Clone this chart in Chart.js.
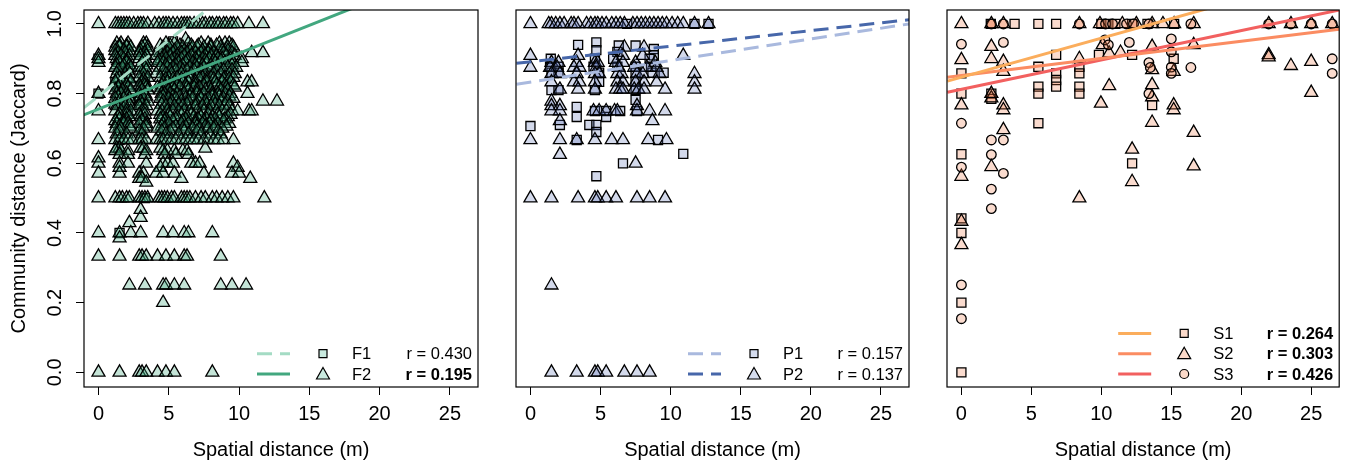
<!DOCTYPE html>
<html>
<head>
<meta charset="utf-8">
<script src="https://cdn.jsdelivr.net/npm/chart.js@4.4.1/dist/chart.umd.min.js"></script>
<style>
  body { margin: 0; background: #fff; }
  canvas.panel { position: absolute; left: 0; top: 0; }
</style>
</head>
<body>
<canvas id="forest" class="panel" width="1348" height="464"></canvas>
<canvas id="plantation" class="panel" width="1348" height="464"></canvas>
<canvas id="secondary" class="panel" width="1348" height="464"></canvas>
<script>
// axis setup
const xMin = -1.03, xMax = 27.0;
const yMin = -0.042, yMax = 1.04;
const xTicks = [0, 5, 10, 15, 20, 25];
const yTicks = [0, 0.2, 0.4, 0.6, 0.8, 1.0];

// F2: spatial distances grouped by Jaccard value
const f2Levels = [1.0, 0.956, 0.944, 0.938, 0.933, 0.923, 0.917, 0.909, 0.9, 0.895, 0.889, 0.882, 0.875, 0.867,
  0.857, 0.846, 0.842, 0.833, 0.824, 0.818, 0.81, 0.8, 0.792, 0.786, 0.778, 0.769, 0.765, 0.75, 0.74, 0.733,
  0.727, 0.722, 0.714, 0.706, 0.7, 0.692, 0.684, 0.667, 0.643, 0.636, 0.625,
  0.615, 0.6, 0.588, 0.571, 0.556, 0.545, 0.5, 0.467, 0.444, 0.429, 0.4, 0.385, 0.333, 0.25, 0.2, 0.0];
const f2Dist = [
  [0, 1.2, 1.4, 1.6, 1.8, 2.0, 2.2, 2.5, 2.8, 3.0, 3.2, 3.5, 4.0, 4.3, 4.6, 4.8, 5.0, 5.3, 5.6, 5.9, 6.1, 6.3, 6.5, 6.8, 7.1, 7.4, 7.6, 7.9, 8.1, 8.4, 8.6, 8.9, 9.1, 9.4, 9.6, 9.9, 10.7, 11.7],
  [6.2],
  [1.3, 1.6, 2.1, 3.2, 3.4, 4.8, 5.4, 6.4, 7.3, 7.8, 8.6, 9.0, 9.3],
  [1.5, 2.0, 3.3, 4.4, 5.1, 5.8, 6.6, 7.1, 8.0, 8.4, 9.5],
  [1.2, 1.5, 2.0, 2.3, 3.1, 3.5, 4.6, 5.0, 5.6, 6.0, 6.7, 7.0, 7.5, 8.0, 8.7, 9.2, 9.6],
  [1.2, 1.8, 2.2, 3.0, 3.5, 4.6, 5.4, 6.1, 6.5, 7.4, 7.9, 8.8, 9.2],
  [1.4, 1.9, 2.9, 3.3, 4.4, 4.9, 5.3, 5.9, 6.3, 6.9, 7.3, 7.8, 8.2, 8.9, 9.5, 10.9, 11.7],
  [0, 1.2, 1.6, 2.2, 3.0, 3.4, 4.1, 4.7, 5.1, 5.6, 6.1, 6.6, 7.1, 7.6, 8.0, 8.4, 9.1, 9.7],
  [0, 1.3, 1.8, 2.1, 2.9, 3.3, 4.5, 4.8, 5.4, 5.9, 6.4, 6.9, 7.4, 7.9, 8.5, 8.8, 9.4, 10.2],
  [1.4, 2.0, 3.2, 4.3, 5.2, 5.6, 6.3, 7.0, 7.6, 8.2, 8.7, 9.3],
  [0, 1.5, 2.0, 3.1, 3.5, 4.2, 4.6, 5.0, 5.7, 6.2, 6.7, 7.2, 7.7, 8.3, 9.0, 9.6, 10.2],
  [1.3, 1.8, 2.2, 3.4, 4.8, 5.5, 6.0, 6.9, 7.4, 8.0, 8.5, 9.5],
  [1.2, 1.7, 2.3, 2.9, 3.3, 4.4, 4.9, 5.3, 5.8, 6.5, 7.0, 7.5, 8.1, 8.6, 9.2, 9.8],
  [1.4, 2.1, 3.0, 3.4, 4.6, 5.1, 5.5, 6.0, 6.3, 6.8, 7.3, 7.9, 8.4, 8.9, 9.5],
  [1.3, 1.9, 2.2, 3.2, 4.1, 4.8, 5.2, 5.9, 6.6, 7.1, 7.6, 8.2, 8.7, 9.3, 9.7],
  [1.5, 2.0, 2.9, 3.5, 4.4, 5.0, 5.6, 6.2, 7.0, 7.4, 8.0, 8.5, 9.0, 9.6],
  [1.3, 1.8, 2.2, 3.2, 4.8, 5.3, 5.9, 6.5, 7.2, 7.7, 8.2, 8.9, 9.3],
  [1.2, 1.7, 2.3, 3.1, 3.3, 4.6, 4.9, 5.4, 6.0, 6.4, 6.9, 7.7, 8.3, 8.8, 9.4, 10.6, 10.9],
  [1.5, 2.0, 2.9, 3.3, 4.5, 5.1, 5.6, 6.2, 6.9, 7.5, 8.4, 9.0, 9.6],
  [1.4, 2.1, 3.0, 3.4, 4.2, 4.8, 5.3, 5.8, 6.3, 6.8, 7.2, 7.9, 8.6, 9.1, 9.7],
  [1.2, 1.7, 2.3, 3.1, 3.5, 4.4, 5.0, 5.4, 6.4, 7.0, 7.6, 8.0, 8.7, 9.2],
  [0, 1.3, 1.6, 2.0, 2.9, 3.3, 4.5, 4.7, 5.1, 5.6, 6.1, 6.6, 7.0, 7.5, 8.1, 8.5, 9.0, 9.4, 10.6],
  [1.4, 2.1, 3.0, 3.4, 4.6, 5.3, 5.8, 6.5, 7.2, 8.1, 8.6, 9.3],
  [1.2, 1.8, 2.2, 3.2, 4.4, 5.0, 5.5, 6.2, 6.7, 7.3, 7.8, 8.3, 8.9, 9.6],
  [1.5, 2.1, 3.0, 3.5, 4.6, 5.2, 5.9, 6.4, 7.1, 7.6, 8.2, 8.7, 9.2, 11.7, 12.7],
  [1.2, 1.6, 2.2, 3.1, 4.5, 5.1, 5.7, 6.3, 7.0, 7.7, 8.3, 9.0],
  [1.3, 1.9, 2.9, 3.4, 4.8, 5.4, 6.0, 6.9, 7.4, 8.0, 8.6, 9.3],
  [0, 1.2, 1.6, 2.0, 2.3, 3.1, 3.3, 4.2, 4.5, 4.9, 5.3, 5.7, 6.1, 6.5, 7.0, 7.5, 7.9, 8.4, 8.8, 9.1, 9.5, 9.9, 10.7, 10.9],
  [1.5, 2.0, 2.9, 3.3, 4.4, 5.0, 5.9, 6.6, 7.2, 7.8, 8.5, 9.4],
  [1.4, 2.2, 3.0, 4.6, 5.1, 5.6, 6.3, 6.8, 7.3, 8.1, 8.6, 9.2],
  [1.5, 2.0, 3.3, 4.4, 4.8, 5.5, 6.2, 7.1, 7.7, 8.3, 9.0],
  [1.2, 1.8, 3.1, 4.7, 5.3, 6.0, 6.9, 7.5, 8.0, 8.9],
  [1.3, 1.8, 2.1, 2.9, 3.4, 4.6, 5.0, 5.9, 6.4, 6.9, 7.4, 7.9, 8.5, 9.3],
  [1.5, 2.2, 3.4, 4.5, 5.5, 6.2, 7.0, 7.6, 8.3, 9.1],
  [1.2, 1.6, 2.3, 3.2, 4.2, 4.7, 5.3, 6.0, 6.7, 7.2, 7.8, 8.2, 8.8],
  [1.5, 2.9, 4.5, 5.1, 6.1, 7.0, 8.5],
  [1.3, 2.0, 3.1, 4.8, 5.7, 6.4, 7.3, 7.9, 8.7],
  [0, 1.2, 1.5, 1.8, 2.1, 2.4, 2.9, 3.1, 3.4, 4.1, 4.4, 4.6, 4.9, 5.2, 5.5, 5.9, 6.2, 6.5, 6.8, 7.1, 7.5, 7.8, 8.2, 8.5, 8.9, 9.6],
  [1.3, 1.5, 3.0, 3.2, 4.4, 7.6],
  [1.2, 1.6, 2.1, 3.4, 4.6, 4.9, 5.4, 6.0, 6.3],
  [1.5, 2.1, 3.3, 4.7, 5.5, 6.4],
  [0],
  [0, 1.5, 2.1, 3.4, 4.6, 4.9, 5.3, 6.6, 6.9, 7.2, 9.6],
  [1.5, 4.4, 9.9],
  [0, 1.5, 2.9, 3.2, 4.1, 4.6, 5.4, 7.5, 8.2, 9.5, 10.0],
  [2.9, 3.1, 5.9, 10.8],
  [3.4],
  [0, 1.2, 1.5, 1.7, 2.0, 2.2, 2.9, 3.1, 3.3, 3.5, 4.3, 4.5, 4.7, 4.9, 5.2, 5.4, 5.9, 6.1, 6.3, 6.5, 6.9, 7.3, 7.6, 8.1, 8.4, 8.8, 9.2, 9.6, 11.8],
  [3.0],
  [3.0],
  [2.2],
  [0, 1.5, 2.3, 3.0, 4.6, 5.3, 6.1, 6.4, 8.1],
  [1.5],
  [0, 1.5, 2.9, 3.1, 3.4, 4.2, 4.8, 5.4, 6.1, 6.3, 8.7],
  [2.2, 3.3, 4.6, 4.8, 5.4, 6.1, 8.7, 9.5, 10.5],
  [4.6],
  [0, 1.5, 2.9, 3.1, 3.4, 4.2, 4.8, 5.4, 8.1]
];
const f1Points = [[0, 0.8], [0, 0.9], [1.5, 0.4], [2.9, 0.78], [1.5, 0.9], [3.3, 0.85], [4.6, 0.9], [1.5, 0.667],
  [2.1, 0.75], [3.3, 0.5], [4.8, 0.8], [2.1, 0.875], [1.2, 0.833], [5.3, 0.95], [3.0, 0.7]];

// P1 / P2
const p1Points = [[3.4, 0.94], [4.7, 0.947], [6.3, 0.938], [7.5, 0.938], [8.8, 0.928], [4.7, 0.925], [6.2, 0.92],
  [8.8, 0.91], [1.45, 0.9], [4.6, 0.9], [5.9, 0.9], [8.5, 0.9], [1.4, 0.877], [2.0, 0.877], [4.5, 0.877],
  [6.2, 0.877], [7.5, 0.877], [8.6, 0.877], [1.5, 0.86], [2.0, 0.86], [4.9, 0.86], [7.5, 0.86], [8.7, 0.86],
  [9.5, 0.86], [4.9, 0.834], [7.5, 0.834], [1.5, 0.81], [2.0, 0.81], [4.6, 0.81], [7.5, 0.81], [7.5, 0.782],
  [3.3, 0.762], [3.3, 0.733], [4.6, 0.75], [5.4, 0.75], [6.4, 0.75], [7.6, 0.75], [0, 0.707], [4.2, 0.71],
  [4.7, 0.71], [4.7, 0.69], [5.4, 0.733], [2.1, 0.71], [3.3, 0.667], [9.1, 0.667], [10.9, 0.627], [6.6, 0.6],
  [4.7, 0.563], [6.9, 1.0], [11.7, 1.0], [12.7, 1.0]];
const p2Levels = [1.0, 0.933, 0.909, 0.889, 0.875, 0.857, 0.833, 0.812, 0.778, 0.765, 0.75, 0.722, 0.667, 0.625,
  0.6, 0.5, 0.25, 0.0];
const p2Dist = [
  [0, 1.3, 1.5, 1.8, 2.1, 2.4, 2.9, 3.1, 3.4, 4.0, 4.3, 4.6, 4.8, 5.1, 5.4, 5.8, 6.1, 6.4, 6.7, 7.3, 7.6, 7.9, 8.2, 8.5, 8.8, 9.1, 9.4, 9.7, 10.1, 10.5, 10.9, 11.7, 12.7],
  [6.7, 8.1],
  [0, 3.4, 6.6, 8.0, 10.9],
  [1.5, 2.0, 3.3, 4.6, 4.8, 6.1, 6.6, 7.5, 8.9],
  [0, 1.4, 1.9, 3.1, 3.5, 4.7, 6.3, 7.4, 8.3, 9.0],
  [1.5, 2.1, 3.3, 4.6, 4.9, 6.2, 6.5, 7.6, 8.0, 9.2, 11.7],
  [1.5, 3.1, 3.5, 4.6, 6.2, 6.6, 7.5, 8.1, 9.0, 11.7],
  [2.1, 3.4, 4.6, 6.1, 6.4, 6.6, 7.4, 7.7, 8.1, 9.6, 11.7],
  [1.5],
  [1.5, 2.1, 7.6],
  [1.5, 2.1, 4.5, 4.9, 5.4, 6.0, 6.2, 7.6, 8.5, 9.6],
  [2.1, 8.7],
  [0, 2.1, 3.3, 4.6, 5.8, 6.6, 8.4, 9.7],
  [2.1],
  [7.5],
  [0, 1.5, 3.4, 4.6, 4.8, 5.4, 6.1, 7.6, 8.5, 9.6],
  [1.5],
  [1.5, 3.3, 4.6, 4.8, 5.4, 6.7, 7.6, 8.5]
];

// S1 / S2 / S3
const s1Points = [[0, 0], [0, 0.2], [0, 0.4], [0, 0.442], [0, 0.626], [0, 0.8], [0, 0.858], [2.14, 0.8], [2.14, 0.785],
  [2.1, 1], [3.8, 1], [5.5, 1], [6.77, 1], [5.5, 0.715], [5.5, 0.82], [5.5, 0.8], [5.5, 0.877], [6.77, 0.911],
  [6.77, 0.858], [6.77, 0.839], [6.77, 0.82], [8.43, 0.877], [8.43, 0.858], [8.43, 0.82], [8.43, 0.8], [9.83, 0.911],
  [12.2, 0.6], [12.2, 0.911], [13.63, 0.767], [15.17, 0.9], [10, 1], [10.5, 1], [11, 1], [12.2, 1], [13.3, 1], [15.2, 1]];
const s2Points = [[0, 1], [0, 0.897], [0, 0.767], [0, 0.562], [0, 0.433], [0, 0.366], [2.14, 0.935], [2.14, 0.9],
  [2.14, 0.787], [2.14, 0.59], [2.14, 0.8], [3.0, 0.892], [3.0, 0.863], [3.0, 0.767], [3.0, 0.753], [3.0, 0.696],
  [8.43, 0.9], [8.43, 0.5], [9.97, 0.772], [10.56, 0.822], [10.1, 0.94], [10.56, 0.916], [11.37, 0.918], [12.2, 0.64],
  [12.2, 0.547], [13.63, 0.935], [13.63, 0.868], [13.63, 0.825], [13.63, 0.79], [13.63, 0.717], [15.17, 0.767],
  [15.17, 0.753], [15.17, 0.863], [16.6, 0.94], [16.6, 0.688], [16.6, 0.592], [21.96, 0.911], [21.96, 0.905],
  [23.55, 0.88], [25.0, 0.892], [25.0, 0.803], [8.43, 1], [11.5, 1], [12.5, 1], [14.4, 1], [15.2, 1], [16.6, 1],
  [21.96, 1], [23.55, 1], [25, 1], [26.5, 1], [2.14, 1], [3.0, 1], [13.63, 1], [9.9, 1]];
const s3Points = [[0, 0.942], [0, 0.715], [0, 0.589], [0, 0.251], [0, 0.154], [2.14, 0.667], [2.14, 0.625],
  [2.14, 0.526], [2.14, 0.47], [3.0, 0.947], [3.0, 0.667], [3.0, 0.571], [2.14, 1], [3.0, 1], [8.43, 1],
  [10.26, 0.954], [10.5, 0.94], [12.0, 0.947], [13.4, 0.889], [13.4, 0.8], [13.5, 0.875], [15.0, 0.957],
  [15.0, 0.92], [15.0, 0.876], [15.0, 0.858], [16.4, 0.875], [16.4, 1], [26.5, 0.9], [26.5, 0.858], [21.96, 1],
  [23.55, 1], [25, 1], [26.5, 1], [10.3, 1], [10.8, 1], [11.8, 1], [12.3, 1], [13.4, 1]];

// fitted lines, end points
const f1Fit = [[-1.05, 0.759], [8, 1.05]];
const f2Fit = [[-1.05, 0.739], [19, 1.06]];
const p1Fit = [[-1, 0.827], [27, 1.0]];
const p2Fit = [[-1, 0.887], [27, 1.012]];
const s1Fit = [[-1, 0.836], [19, 1.06]];
const s2Fit = [[-1, 0.847], [27, 0.985]];
const s3Fit = [[-1, 0.804], [27, 1.04]];

const fLabels = ['F1', 'F2'], fR = ['r = 0.430', 'r = 0.195'], fBold = [false, true];
const pLabels = ['P1', 'P2'], pR = ['r = 0.157', 'r = 0.137'], pBold = [false, false];
const sLabels = ['S1', 'S2', 'S3'], sR = ['r = 0.264', 'r = 0.303', 'r = 0.426'], sBold = [true, true, true];

const fontFam = '"Liberation Sans", Arial, Helvetica, sans-serif';
const green = 'rgba(60,165,122,0.3)', greenLeg = '#c9eadf';
const blue = 'rgba(80,105,175,0.25)', blueLeg = '#d5dcee';
const orange = 'rgba(235,110,60,0.25)', orangeLeg = '#fbd9c9';

function pts(pairs) { return pairs.map(p => ({ x: p[0], y: p[1] })); }
function levelPts(levels, dists) {
  const out = [];
  levels.forEach((y, i) => dists[i].forEach(x => out.push({ x: x, y: y })));
  return out;
}
function dots(data, style, radius, fill, order) {
  return { data: data, pointStyle: style, pointRadius: radius, backgroundColor: fill,
    borderColor: '#000', borderWidth: 1.3, showLine: false, order: order };
}
function fit(pairs, color, dash) {
  return { data: pts(pairs), showLine: true, borderColor: color, borderWidth: 3, borderDash: dash,
    pointRadius: 0, fill: false, order: 0, clip: 0 };
}

function frame(legend, showY) {
  return {
    id: 'frame',
    afterDraw(chart) {
      const ctx = chart.ctx, a = chart.chartArea;
      ctx.save();
      ctx.strokeStyle = '#000';
      ctx.lineWidth = 1.2;
      ctx.strokeRect(a.left, a.top, a.right - a.left, a.bottom - a.top);
      ctx.fillStyle = '#000';
      if (showY) {
        ctx.font = '20px ' + fontFam;
        ctx.textAlign = 'center';
        ctx.textBaseline = 'middle';
        yTicks.forEach(v => {
          const py = chart.scales.y.getPixelForValue(v);
          ctx.save();
          ctx.translate(55, py);
          ctx.rotate(-Math.PI / 2);
          ctx.fillText(v.toFixed(1), 0, 0);
          ctx.restore();
        });
      }
      // legend
      const R = a.right;
      const n = legend.labels.length;
      legend.labels.forEach((lab, i) => {
        const y = 374 - (n - 1 - i) * 20.3;
        ctx.beginPath();
        ctx.setLineDash(legend.dash[i]);
        ctx.strokeStyle = legend.colors[i];
        ctx.lineWidth = 3;
        ctx.moveTo(R - 221, y);
        ctx.lineTo(R - 188, y);
        ctx.stroke();
        ctx.setLineDash([]);
        ctx.strokeStyle = '#000';
        ctx.lineWidth = 1.2;
        ctx.fillStyle = legend.fill;
        const sx = R - 155;
        ctx.beginPath();
        if (legend.shapes[i] === 'rect') {
          ctx.rect(sx - 4, y - 4, 8, 8);
        } else if (legend.shapes[i] === 'triangle') {
          ctx.moveTo(sx, y - 6.5);
          ctx.lineTo(sx + 6.5, y + 5);
          ctx.lineTo(sx - 6.5, y + 5);
          ctx.closePath();
        } else {
          ctx.arc(sx, y, 4.5, 0, Math.PI * 2);
        }
        ctx.fill();
        ctx.stroke();
        ctx.fillStyle = '#000';
        ctx.textBaseline = 'middle';
        ctx.font = '16.5px ' + fontFam;
        ctx.textAlign = 'left';
        ctx.fillText(lab, R - 126, y + 1);
        ctx.font = (legend.bold[i] ? 'bold ' : '') + '16.5px ' + fontFam;
        ctx.textAlign = 'right';
        ctx.fillText(legend.r[i], R - 6, y + 1);
      });
      ctx.restore();
    }
  };
}

function makePanel(id, box, datasets, legend, showY) {
  const yW = showY ? 80 : 0;
  return new Chart(document.getElementById(id), {
    type: 'scatter',
    data: { datasets: datasets },
    options: {
      responsive: false,
      animation: false,
      events: [],
      devicePixelRatio: 1,
      layout: { padding: { left: box[0] - yW, right: 1348 - box[1], top: 10, bottom: 0 } },
      plugins: { legend: { display: false }, tooltip: { enabled: false } },
      scales: {
        x: {
          type: 'linear', min: xMin, max: xMax,
          afterBuildTicks: s => { s.ticks = xTicks.map(v => ({ value: v })); },
          afterFit: s => { s.height = 77; },
          border: { display: false },
          grid: { drawOnChartArea: false, drawTicks: true, tickLength: 8, color: '#000', lineWidth: 1 },
          ticks: { color: '#000', font: { family: fontFam, size: 20 }, padding: 7, maxRotation: 0, autoSkip: false },
          title: { display: true, text: 'Spatial distance (m)', color: '#000',
            font: { family: fontFam, size: 20 }, padding: { top: 0, bottom: 2 } }
        },
        y: {
          type: 'linear', min: yMin, max: yMax, display: showY,
          afterBuildTicks: s => { s.ticks = yTicks.map(v => ({ value: v })); },
          afterFit: s => { s.width = yW; },
          border: { display: false },
          grid: { drawOnChartArea: false, drawTicks: true, tickLength: 8, color: '#000', lineWidth: 1 },
          ticks: { display: false },
          title: { display: true, text: 'Community distance (Jaccard)', color: '#000',
            font: { family: fontFam, size: 20 }, padding: { top: 3, bottom: 0 } }
        }
      }
    },
    plugins: [frame(legend, showY)]
  });
}

makePanel('forest', [84, 478], [
  fit(f1Fit, '#a4dbc4', [15, 8]),
  fit(f2Fit, '#42a77f', []),
  dots(levelPts(f2Levels, f2Dist), 'triangle', 7.5, green, 1),
  dots(pts(f1Points), 'rect', 6.4, green, 2)
], { labels: fLabels, r: fR, bold: fBold, colors: ['#a4dbc4', '#42a77f'], dash: [[15, 8], []],
  shapes: ['rect', 'triangle'], fill: greenLeg }, true);

makePanel('plantation', [516, 909], [
  fit(p1Fit, '#a9b9de', [15, 8]),
  fit(p2Fit, '#4767aa', [15, 8]),
  dots(levelPts(p2Levels, p2Dist), 'triangle', 7.5, blue, 1),
  dots(pts(p1Points), 'rect', 6.4, blue, 2)
], { labels: pLabels, r: pR, bold: pBold, colors: ['#a9b9de', '#4767aa'], dash: [[15, 8], [15, 8]],
  shapes: ['rect', 'triangle'], fill: blueLeg }, false);

makePanel('secondary', [947, 1340], [
  fit(s1Fit, '#fbad5c', []),
  fit(s2Fit, '#fb8c62', []),
  fit(s3Fit, '#f2605f', []),
  dots(pts(s3Points), 'circle', 4.8, orange, 1),
  dots(pts(s2Points), 'triangle', 7.5, orange, 2),
  dots(pts(s1Points), 'rect', 6.4, orange, 3)
], { labels: sLabels, r: sR, bold: sBold, colors: ['#fbad5c', '#fb8c62', '#f2605f'], dash: [[], [], []],
  shapes: ['rect', 'triangle', 'circle'], fill: orangeLeg }, false);
</script>
</body>
</html>
